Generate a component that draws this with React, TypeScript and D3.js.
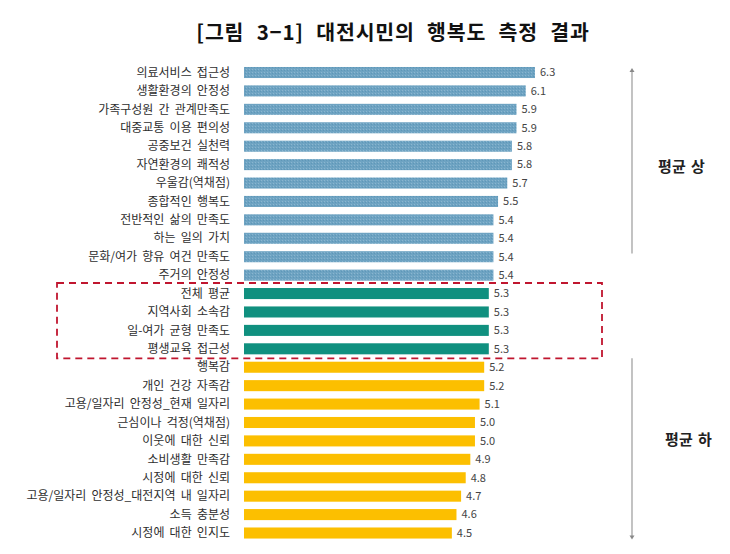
import React from "react";
import * as d3 from "d3";

const categories = [
  "의료서비스 접근성",
  "생활환경의 안정성",
  "가족구성원 간 관계만족도",
  "대중교통 이용 편의성",
  "공중보건 실천력",
  "자연환경의 쾌적성",
  "우울감(역채점)",
  "종합적인 행복도",
  "전반적인 삶의 만족도",
  "하는 일의 가치",
  "문화/여가 향유 여건 만족도",
  "주거의 안정성",
  "전체 평균",
  "지역사회 소속감",
  "일-여가 균형 만족도",
  "평생교육 접근성",
  "행복감",
  "개인 건강 자족감",
  "고용/일자리 안정성_현재 일자리",
  "근심이나 걱정(역채점)",
  "이웃에 대한 신뢰",
  "소비생활 만족감",
  "시정에 대한 신뢰",
  "고용/일자리 안정성_대전지역 내 일자리",
  "소득 충분성",
  "시정에 대한 인지도",
];
const values = [6.3, 6.1, 5.9, 5.9, 5.8, 5.8, 5.7, 5.5, 5.4, 5.4, 5.4, 5.4, 5.3, 5.3, 5.3, 5.3, 5.2, 5.2, 5.1, 5.0, 5.0, 4.9, 4.8, 4.7, 4.6, 4.5];
const groups = ["above", "above", "above", "above", "above", "above", "above", "above", "above", "above", "above", "above", "avg", "avg", "avg", "avg", "below", "below", "below", "below", "below", "below", "below", "below", "below", "below"];
const title = "[그림 3−1] 대전시민의 행복도 측정 결과";
const sideLabels = ["평균 상", "평균 하"];

const W = 730;
const H = 554;
const FONT = "'Noto Sans CJK KR', 'Noto Sans', sans-serif";

export default function App() {
  const x = d3.scaleLinear().domain([0, 6.3]).range([244, 535]);
  const y = d3
    .scaleBand<number>()
    .domain(d3.range(categories.length))
    .range([63.3, 63.3 + 26 * 18.42])
    .paddingInner(0.4)
    .paddingOuter(0.2);
  const fillFor = (g: string) =>
    g === "above" ? "url(#hatch)" : g === "avg" ? "#10907f" : "#fcbf00";

  const avgIdx = groups.map((g, i) => (g === "avg" ? i : -1)).filter((i) => i >= 0);
  const boxTop = (y(avgIdx[0]) as number) - 5;
  const boxBottom = (y(avgIdx[avgIdx.length - 1]) as number) + y.bandwidth() + 4;
  const aboveIdx = groups.map((g, i) => (g === "above" ? i : -1)).filter((i) => i >= 0);
  const belowIdx = groups.map((g, i) => (g === "below" ? i : -1)).filter((i) => i >= 0);
  const upTop = (y(aboveIdx[0]) as number) + 1;
  const upBottom = (y(aboveIdx[aboveIdx.length - 1]) as number) - 16;
  const downTop = boxBottom;
  const downBottom = (y(belowIdx[belowIdx.length - 1]) as number) + y.bandwidth() + 1;
  const arrowX = 632;

  return (
    <svg width={W} height={H} style={{ position: "absolute", left: 0, top: 0, background: "#fff" }}>
      <defs>
        <pattern id="hatch" width="3" height="3" patternUnits="userSpaceOnUse">
          <rect width="3" height="3" fill="#6ea3c2" />
          <rect x="0" y="0" width="1" height="1" fill="#8ab6d0" />
          <rect x="2" y="1" width="1" height="1" fill="#5e97b8" />
        </pattern>
      </defs>
      <text
        x={393}
        y={40}
        textAnchor="middle"
        fontFamily={FONT}
        fontWeight={700}
        fontSize={20.5}
        fill="#111"
        style={{ wordSpacing: "7px", letterSpacing: "0.8px" }}
      >
        {title}
      </text>
      {categories.map((c, i) => {
        const yy = y(i) as number;
        const cy = yy + y.bandwidth() / 2;
        return (
          <g key={i}>
            <rect x={x(0)} y={yy} width={x(values[i]) - x(0)} height={y.bandwidth()} fill={fillFor(groups[i])} />
            <text
              x={230}
              y={cy}
              dy="0.35em"
              textAnchor="end"
              fontFamily={FONT}
              fontSize={12}
              fill="#2e2e2e"
              style={{ wordSpacing: "2.5px" }}
            >
              {c}
            </text>
            <text x={x(values[i]) + 5} y={cy} dy="0.35em" fontFamily={FONT} fontSize={11} fill="#444">
              {values[i].toFixed(1)}
            </text>
          </g>
        );
      })}
      <rect
        x={57}
        y={boxTop}
        width={602 - 57}
        height={boxBottom - boxTop}
        fill="none"
        stroke="#c0162f"
        strokeWidth={1.8}
        strokeDasharray="7 5"
      />
      <line x1={arrowX} x2={arrowX} y1={upTop + 3} y2={upBottom} stroke="#9a9a9a" strokeWidth={1.2} />
      <path d={`M${arrowX - 2.5},${upTop + 4} L${arrowX},${upTop} L${arrowX + 2.5},${upTop + 4} Z`} fill="#888" />
      <line x1={arrowX} x2={arrowX} y1={downTop} y2={downBottom - 3} stroke="#9a9a9a" strokeWidth={1.2} />
      <path d={`M${arrowX - 2.5},${downBottom - 4} L${arrowX},${downBottom} L${arrowX + 2.5},${downBottom - 4} Z`} fill="#888" />
      <text x={681.5} y={167} dy="0.35em" textAnchor="middle" fontFamily={FONT} fontWeight={700} fontSize={15} fill="#222" style={{ wordSpacing: "2px" }}>
        {sideLabels[0]}
      </text>
      <text x={688.5} y={440} dy="0.35em" textAnchor="middle" fontFamily={FONT} fontWeight={700} fontSize={15} fill="#222" style={{ wordSpacing: "2px" }}>
        {sideLabels[1]}
      </text>
    </svg>
  );
}
